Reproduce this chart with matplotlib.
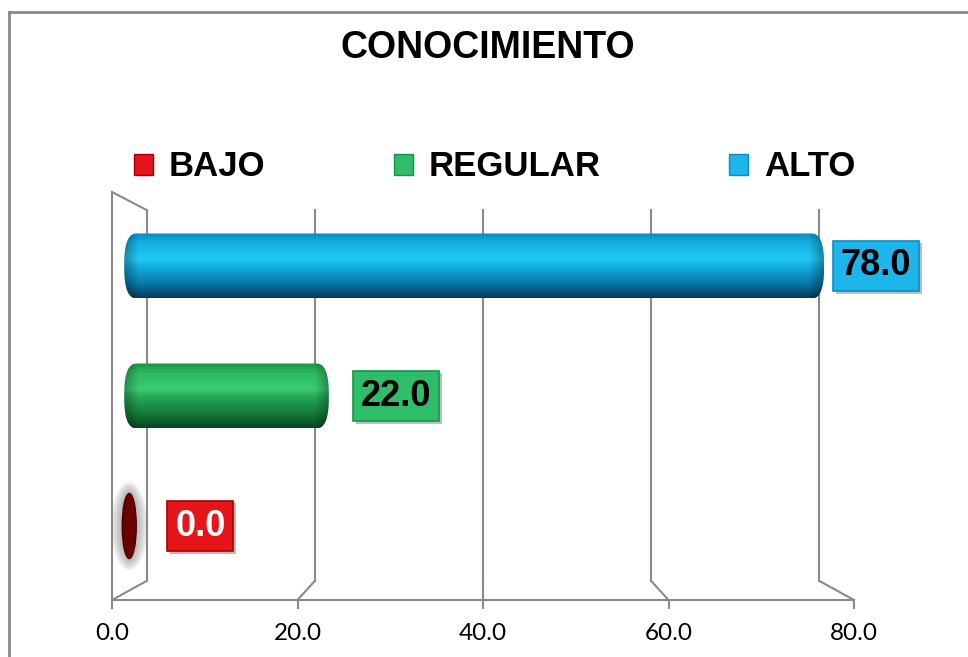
import numpy as np
import matplotlib
matplotlib.use("Agg")
from matplotlib import pyplot as plt
from matplotlib.patches import Polygon, Ellipse, Patch
from matplotlib.colors import LinearSegmentedColormap
from matplotlib.lines import Line2D
import matplotlib.patheffects as pe

# Datos
titulo = "CONOCIMIENTO"
categorias = ["BAJO", "REGULAR", "ALTO"]
valores = [0.0, 22.0, 78.0]
ticks_x = [0, 20, 40, 60, 80]

# Estilos
colores_caja = ["#e8141b", "#2ebd69", "#1db6ea"]
bordes_caja = ["#a80000", "#17934a", "#0e8cc0"]
color_texto = ["white", "black", "black"]
gradientes = [
    ["#7a0000", "#a00000", "#c00000", "#900000", "#6a0000", "#3a0000"],
    ["#1a9445", "#2db862", "#3bcb72", "#25a957", "#137a39", "#08441f"],
    ["#0a8cc2", "#14b0e2", "#22c9f6", "#12ade0", "#0a78a6", "#053a55"],
]
gris = "#8a8a8a"

W, H = 968, 657
fig = plt.figure(figsize=(W / 100, H / 100), dpi=100)
ax = fig.add_axes([112 / W, 57 / H, 742 / W, 408 / H])
ylim = (-0.569, 2.569)
px_x = 742 / 80.0             # pixeles por unidad en x
px_y = 408 / (ylim[1] - ylim[0])

# pared del fondo (perspectiva)
fondo_dx = 34.5 / px_x
fondo_esc = 0.907
fondo_y0, fondo_y1 = -0.423, 2.431
prof_barra = 0.5

def plano(v, t):
    return t * fondo_dx + v * (1 - t * (1 - fondo_esc))

for v in ticks_x:
    xb = plano(v, 1)
    ax.plot([xb, xb], [fondo_y0, fondo_y1], color=gris, lw=1.5, zorder=1, clip_on=False)
    ax.plot([v, xb], [ylim[0], fondo_y0], color=gris, lw=1.5, zorder=1, clip_on=False)
ax.plot([0, plano(0, 1)], [ylim[1], fondo_y1], color=gris, lw=1.5, zorder=1, clip_on=False)

# cilindros
bar_h = 65 / px_y
cap = 5 / px_x
cw = 13 / px_x          # ancho de la tapa redondeada
expo = 2.6
th = np.linspace(-np.pi / 2, np.pi / 2, 60)
cx = np.abs(np.cos(th)) ** (2 / expo)
sy = np.sign(np.sin(th)) * np.abs(np.sin(th)) ** (2 / expo)
grad = np.linspace(0, 1, 256).reshape(-1, 1)

for i, v in enumerate(valores):
    x0 = plano(0, prof_barra)
    x1 = plano(v, prof_barra)
    if v == 0:
        ew, eh = 14 / px_x, bar_h
        for k in range(12, 0, -1):
            ax.add_patch(Ellipse((x0, i), ew + 2 * k / px_x, eh + 2 * k / px_y,
                                 fc="#808080", ec="none", alpha=0.06, zorder=3))
        ax.add_patch(Ellipse((x0, i), ew, eh, fc="#6a0000", ec="#4a0000", lw=1, zorder=4))
        continue
    xa, xb_ = x0 - cap, x1 + cap
    derecha = np.column_stack([xb_ - cw + cw * cx, i + bar_h / 2 * sy])
    izquierda = np.column_stack([xa + cw - cw * cx, i - bar_h / 2 * sy])
    forma = Polygon(np.vstack([derecha, izquierda]), closed=True, fc="none", ec="none", zorder=3)
    ax.add_patch(forma)
    cmap = LinearSegmentedColormap.from_list(
        categorias[i], list(zip([0, 0.15, 0.4, 0.52, 0.78, 1.0], gradientes[i])))
    im = ax.imshow(grad, extent=[xa, xb_, i - bar_h / 2, i + bar_h / 2], origin="upper",
                   aspect="auto", cmap=cmap, zorder=3, interpolation="bilinear")
    im.set_clip_path(forma)
    # sombreado en los extremos
    n = 400
    xs = np.linspace(xa, xb_, n)
    d = np.minimum(xs - xa, xb_ - xs) * px_x
    alfa = 0.3 * np.clip(1 - d / 14, 0, 1)
    som = np.zeros((1, n, 4))
    som[0, :, 3] = alfa
    im2 = ax.imshow(som, extent=[xa, xb_, i - bar_h / 2, i + bar_h / 2],
                    aspect="auto", zorder=3.5, interpolation="bilinear")
    im2.set_clip_path(forma)

# etiquetas de datos
separacion = [38, 29, 14]
for i, v in enumerate(valores):
    t = ax.annotate(f"{v:.1f}", xy=(plano(v, prof_barra), i),
                    xytext=(separacion[i] * 0.72 + 5.7, 0), textcoords="offset points",
                    ha="left", va="center", fontsize=26, fontweight="bold",
                    family="Liberation Sans", color=color_texto[i], zorder=6,
                    bbox=dict(boxstyle="square,pad=0.22", fc=colores_caja[i],
                              ec=bordes_caja[i], lw=1.2))
    t.get_bbox_patch().set_path_effects([pe.SimplePatchShadow(offset=(2, -2), alpha=0.3),
                                         pe.Normal()])

ax.set_xlim(0, 80)
ax.set_ylim(*ylim)
ax.set_xticks(ticks_x)
ax.set_xticklabels([f"{v:.1f}" for v in ticks_x], family="Lato", fontsize=17.5)
ax.set_yticks([])
ax.tick_params(axis="x", direction="out", length=6.5, width=1.5, color=gris, pad=10)
for s in ["top", "right"]:
    ax.spines[s].set_visible(False)
for s in ["left", "bottom"]:
    ax.spines[s].set_color(gris)
    ax.spines[s].set_linewidth(1.5)
ax.patch.set_alpha(0)

fig.text(488 / W, 1 - 48 / H, titulo, ha="center", va="center", fontsize=27,
         fontweight="bold", family="Liberation Sans")

handles = [Patch(fc=colores_caja[i], ec=bordes_caja[i], lw=1) for i in range(3)]
fig.legend(handles, categorias, loc="center", bbox_to_anchor=(494.5 / W, 1 - 167 / H),
           ncol=3, frameon=False, prop=dict(family="Liberation Sans", weight="bold", size=25),
           handlelength=0.55, handleheight=0.55, handletextpad=0.45, columnspacing=3.7)

# borde del grafico
fig.add_artist(Line2D([9 / W, 9 / W], [0, 1 - 12 / H], color=gris, lw=2, transform=fig.transFigure))
fig.add_artist(Line2D([9 / W, 1], [1 - 12 / H, 1 - 12 / H], color=gris, lw=2, transform=fig.transFigure))

fig.savefig("out.png", dpi=100)
